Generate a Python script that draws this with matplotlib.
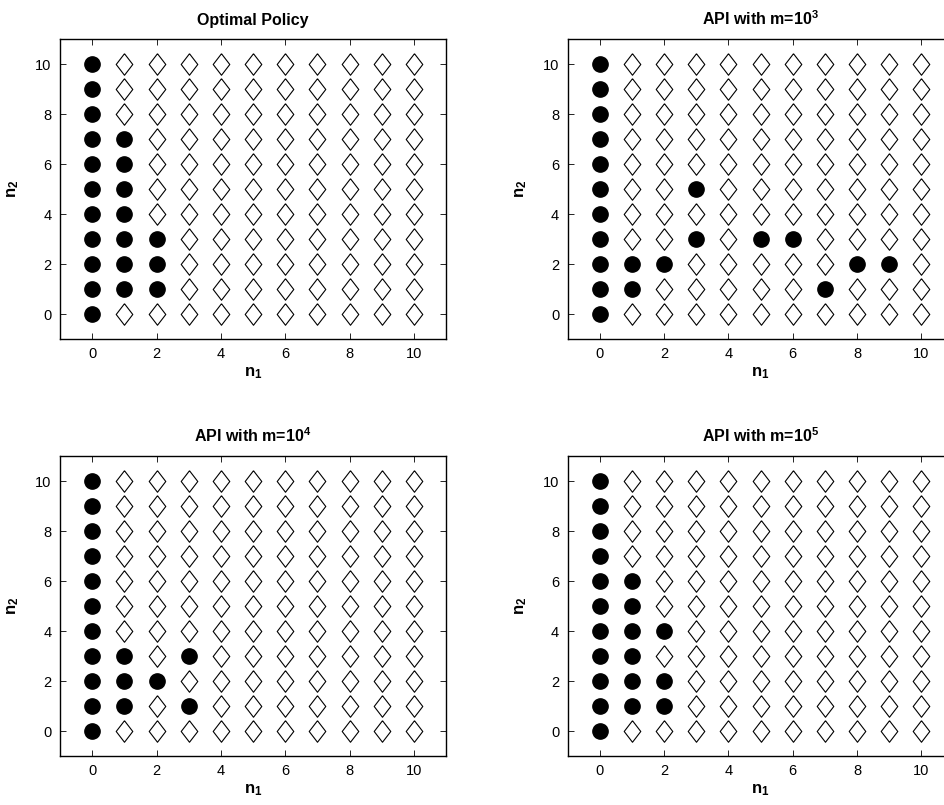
import matplotlib
matplotlib.use("Agg")
import matplotlib.pyplot as plt
import numpy as np

plt.rcParams['font.family'] = ['Liberation Sans', 'DejaVu Sans']
plt.rcParams['mathtext.fontset'] = 'custom'
plt.rcParams['mathtext.rm'] = 'Liberation Sans'
plt.rcParams['mathtext.bf'] = 'Liberation Sans:bold'

n1_values = list(range(11))
n2_values = list(range(11))

titles = ["Optimal Policy", r"API with m=10$^{\mathbf{3}}$",
          r"API with m=10$^{\mathbf{4}}$", r"API with m=10$^{\mathbf{5}}$"]

# states where the policy takes the "circle" action: (n1, n2)
optimo = [(0, k) for k in range(11)] + [(1, k) for k in range(1, 8)] + [(2, 1), (2, 2), (2, 3)]
api_1e3 = [(0, k) for k in range(11)] + [(1, 1), (1, 2), (2, 2), (3, 3), (3, 5),
                                         (5, 3), (6, 3), (7, 1), (8, 2), (9, 2)]
api_1e4 = [(0, k) for k in range(11)] + [(1, 1), (1, 2), (1, 3), (2, 2), (3, 1), (3, 3)]
api_1e5 = [(0, k) for k in range(11)] + [(1, k) for k in range(1, 7)] + [(2, 1), (2, 2), (2, 4)]

politicas = [optimo, api_1e3, api_1e4, api_1e5]

W, H = 944, 805
posiciones = [
    [60 / W, (H - 339) / H, 386 / W, 300 / H],
    [567.5 / W, (H - 339) / H, 386 / W, 300 / H],
    [60 / W, (H - 756) / H, 386 / W, 300 / H],
    [567.5 / W, (H - 756) / H, 386 / W, 300 / H],
]

rombo = [(0, 1), (0.77, 0), (0, -1), (-0.77, 0), (0, 1)]

fig = plt.figure(figsize=(W / 100, H / 100), dpi=100)

for titulo, politica, pos in zip(titles, politicas, posiciones):
    ax = fig.add_axes(pos)
    circ = set(politica)
    cx = [p[0] for p in politica]
    cy = [p[1] for p in politica]
    dx = [a for a in n1_values for b in n2_values if (a, b) not in circ]
    dy = [b for a in n1_values for b in n2_values if (a, b) not in circ]
    ax.plot(dx, dy, linestyle='none', marker=rombo, markersize=15.5,
            markerfacecolor='white', markeredgecolor='black', markeredgewidth=0.8)
    ax.plot(cx, cy, linestyle='none', marker='o', markersize=11,
            markerfacecolor='black', markeredgecolor='black')
    ax.set_xlim(-1, 11)
    ax.set_ylim(-1, 11)
    ax.set_xticks([0, 2, 4, 6, 8, 10])
    ax.set_yticks([0, 2, 4, 6, 8, 10])
    ax.tick_params(direction='in', top=True, right=True, length=4, width=0.6,
                   labelsize=10.5, pad=6)
    for s in ax.spines.values():
        s.set_linewidth(1.0)
    ax.set_title(titulo, fontsize=11.5, fontweight='bold', pad=10)
    ax.set_xlabel(r"$\mathbf{n_1}$", fontsize=12, labelpad=3)
    ax.set_ylabel(r"$\mathbf{n_2}$", fontsize=12, labelpad=10)

fig.savefig("out.png", dpi=100)
